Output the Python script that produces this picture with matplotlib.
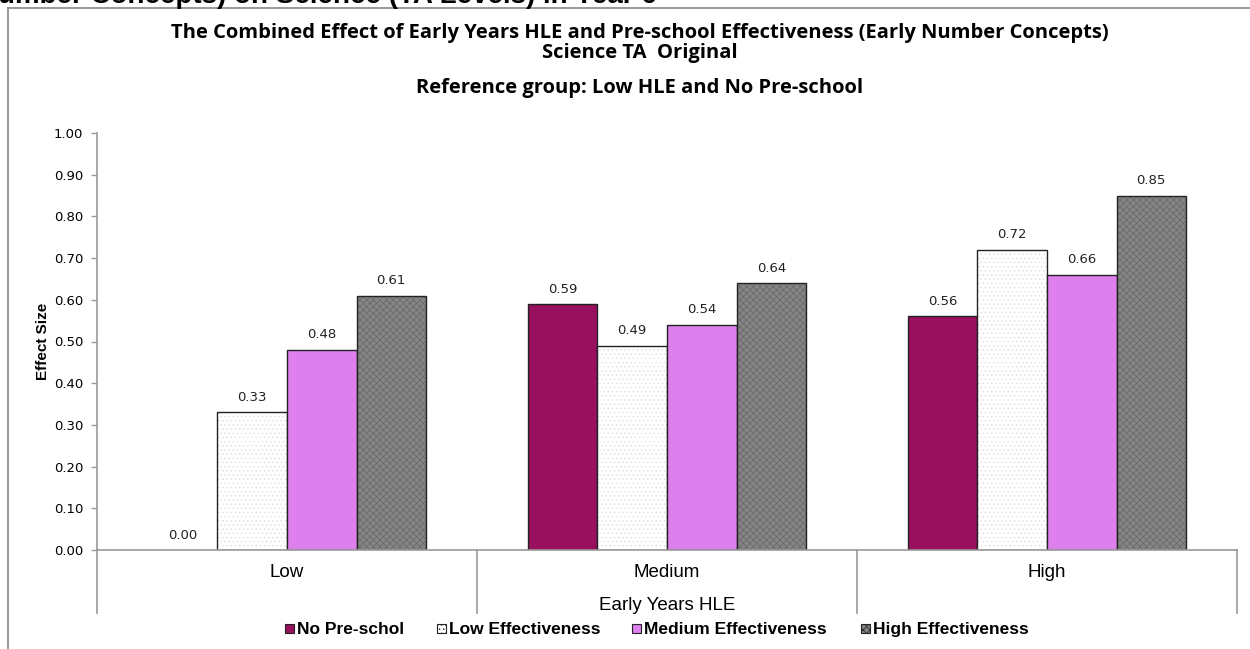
import matplotlib
matplotlib.use("Agg")
import matplotlib.pyplot as plt
import matplotlib.transforms as mtransforms
from matplotlib.lines import Line2D
from matplotlib.patches import Rectangle
import numpy as np

# data
groups = ["Low", "Medium", "High"]
series = ["No Pre-schol", "Low Effectiveness", "Medium Effectiveness", "High Effectiveness"]
no_preschool = [0.00, 0.59, 0.56]
low_eff = [0.33, 0.49, 0.72]
med_eff = [0.48, 0.54, 0.66]
high_eff = [0.61, 0.64, 0.85]
values = [no_preschool, low_eff, med_eff, high_eff]
yticks = [0.0, 0.1, 0.2, 0.3, 0.4, 0.5, 0.6, 0.7, 0.8, 0.9, 1.0]

faces = ["#99105E", "#FFFFFF", "#DD80EE", "#858585"]
hatches = [None, "....", None, "xxxxx"]
hatch_cols = [None, "#DDDDDD", None, "#666666"]

plt.rcParams["font.family"] = ["Liberation Sans", "DejaVu Sans"]
plt.rcParams["hatch.linewidth"] = 0.5

W, H = 1250, 649
fig = plt.figure(figsize=(12.5, 6.49), dpi=100)
ax = fig.add_axes([97 / W, 99 / H, 1140 / W, 417 / H])

x = np.arange(len(groups))
w = 0.183
for i, vals in enumerate(values):
    pos = x + (i - 1.5) * w
    for p, v in zip(pos, vals):
        if hatches[i]:
            ax.bar(p, v, w, color=faces[i], edgecolor=hatch_cols[i], hatch=hatches[i], lw=0)
        else:
            ax.bar(p, v, w, color=faces[i], lw=0)
        if v > 0:
            ax.bar(p, v, w, fill=False, edgecolor="#222222", lw=1.0)
        ax.text(p, v + 0.02, "%.2f" % v, ha="center", va="bottom",
                fontsize=9.5, family="DejaVu Sans", color="#222222")

ax.set_xlim(-0.5, 2.5)
ax.set_ylim(0, 1.0)
ax.set_yticks(yticks)
ax.set_yticklabels(["%.2f" % t for t in yticks], fontsize=9.5, family="DejaVu Sans")
ax.tick_params(axis="y", length=4, color="#999999", width=1, pad=6)
ax.set_xticks([])
for s in ["top", "right"]:
    ax.spines[s].set_visible(False)
ax.spines["left"].set_color("#999999")
ax.spines["bottom"].set_color("#999999")
ax.spines["left"].set_linewidth(1.2)
ax.spines["bottom"].set_linewidth(1.2)

# category separators below the axis
tr = mtransforms.blended_transform_factory(ax.transData, ax.transAxes)
for sx in [-0.5, 0.5, 1.5, 2.5]:
    ax.add_line(Line2D([sx, sx], [0, -0.152], transform=tr, color="#999999",
                       lw=1.2, clip_on=False))
for gx, g in zip(x, groups):
    ax.text(gx, -0.055, g, transform=tr, ha="center", va="center", fontsize=13.5)

ax.set_ylabel("Effect Size", fontsize=11, fontweight="bold", labelpad=3)
fig.text(667 / W, 1 - 605 / H, "Early Years HLE", ha="center", va="center", fontsize=13.5)

# titles
tfont = ["Open Sans", "DejaVu Sans"]
fig.text(640 / W, 1 - 33 / H,
         "The Combined Effect of Early Years HLE and Pre-school Effectiveness (Early Number Concepts)",
         ha="center", va="center", fontsize=14.5, fontweight="bold", family=tfont)
fig.text(640 / W, 1 - 53 / H, "Science TA  Original",
         ha="center", va="center", fontsize=14.5, fontweight="bold", family=tfont)
fig.text(640 / W, 1 - 88 / H, "Reference group: Low HLE and No Pre-school",
         ha="center", va="center", fontsize=14.5, fontweight="bold", family=tfont)

# cropped heading at the very top
fig.text(-0.002, 1 - 3 / H, "umber Concepts) on Science (TA Levels) in Year 6",
         ha="left", va="baseline", fontsize=20, fontweight="bold")

# outer frame
fig.add_artist(Line2D([8 / W, 1.0], [1 - 8 / H, 1 - 8 / H], transform=fig.transFigure,
                      color="#888888", lw=1.2))
fig.add_artist(Line2D([8 / W, 8 / W], [1 - 8 / H, 0], transform=fig.transFigure,
                      color="#888888", lw=1.2))

# legend, laid out in one row
leg_x = [285, 437, 632, 861]
leg_y = 628
sq = 9
for i in range(4):
    fig.add_artist(Rectangle((leg_x[i] / W, (H - leg_y - sq / 2) / H), sq / W, sq / H,
                             transform=fig.transFigure, facecolor=faces[i],
                             edgecolor="#222222", lw=0.8, hatch=hatches[i]))
    fig.text((leg_x[i] + sq + 3) / W, 1 - leg_y / H, series[i], ha="left",
             va="center_baseline", fontsize=12.5, fontweight="bold")

fig.savefig("out.png", dpi=100)
